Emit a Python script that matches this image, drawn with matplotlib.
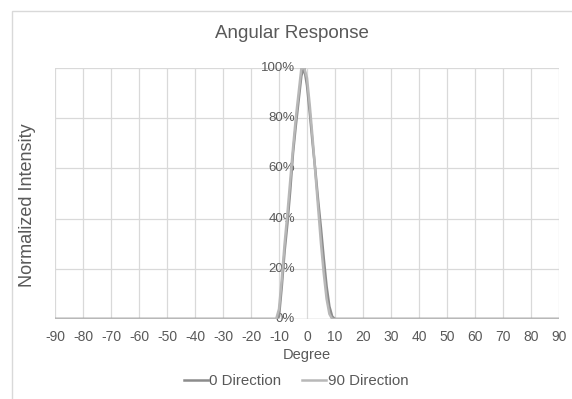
import matplotlib
matplotlib.use("Agg")
import matplotlib.pyplot as plt
from matplotlib.patches import Rectangle

plt.rcParams['font.family'] = ['Liberation Sans', 'DejaVu Sans']

# Angular response measurements (degree vs normalized intensity)
deg_0 = [-90, -11, -10, -9, -8, -7, -6, -5, -4, -3, -2, -1, 0, 1, 2, 3, 4, 5, 6, 7, 8, 9, 10, 90]
int_0 = [0.0, 0.0, 0.01, 0.13, 0.27, 0.38, 0.51, 0.66, 0.77, 0.87, 0.97, 1.0, 0.93, 0.82, 0.70, 0.59, 0.47, 0.36, 0.24, 0.13, 0.05, 0.01, 0.0, 0.0]

deg_90 = [-90, -11, -10, -9, -8, -7, -6, -5, -4, -3, -2, -1, 0, 1, 2, 3, 4, 5, 6, 7, 8, 9, 10, 90]
int_90 = [0.0, 0.0, 0.04, 0.16, 0.30, 0.42, 0.55, 0.68, 0.80, 0.90, 1.0, 1.0, 0.96, 0.85, 0.72, 0.58, 0.44, 0.30, 0.18, 0.08, 0.02, 0.0, 0.0, 0.0]

series_names = ["0 Direction", "90 Direction"]
x_ticks = list(range(-90, 91, 10))
y_ticks = [0.0, 0.2, 0.4, 0.6, 0.8, 1.0]
y_tick_labels = ["0%", "20%", "40%", "60%", "80%", "100%"]

text_color = "#595959"
grid_color = "#d9d9d9"

W, H = 572, 399
fig = plt.figure(figsize=(W / 100, H / 100), dpi=100)

# chart frame
fig.patches.append(Rectangle((12 / W, -0.1), 1.2, 1 - 11 / H + 0.1,
                             transform=fig.transFigure, fill=False,
                             edgecolor="#d9d9d9", linewidth=1.0, zorder=0))

ax = fig.add_axes([55 / W, 1 - 319 / H, (559 - 55) / W, (319 - 68) / H])
ax.set_xlim(-90, 90)
ax.set_ylim(0, 1)

ax.plot(deg_0, int_0, color="#8c8c8c", linewidth=1.8, label=series_names[0], zorder=3)
ax.plot(deg_90, int_90, color="#b8b8b8", linewidth=1.8, label=series_names[1], zorder=3)

ax.set_xticks(x_ticks)
ax.set_xticklabels([str(t) for t in x_ticks], fontsize=10, color=text_color)
ax.set_yticks(y_ticks)
ax.set_yticklabels([])
ax.tick_params(axis='both', length=0)
ax.tick_params(axis='x', pad=8)
ax.grid(True, color=grid_color, linewidth=0.9)
ax.set_axisbelow(True)
for s in ax.spines.values():
    s.set_visible(False)
ax.axhline(0, color="#cfcfcf", linewidth=1.0, zorder=2)

# vertical axis labels sit beside the axis crossing at 0 degrees
for v, lab in zip(y_ticks, y_tick_labels):
    ax.annotate(lab, xy=(0, v), xytext=(-8.5, 0), textcoords="offset points",
                ha="right", va="center", fontsize=9.5, color=text_color, zorder=2)

fig.text(292 / W, 1 - 33 / H, "Angular Response", fontsize=13.5, color=text_color,
         ha="center", va="center")
fig.text(28 / W, 1 - 205 / H, "Normalized Intensity", fontsize=13, color=text_color,
         ha="center", va="center", rotation=90)
ax.set_xlabel("Degree", fontsize=10.5, color=text_color, labelpad=3)

leg = fig.legend(*ax.get_legend_handles_labels(), loc="center",
                 bbox_to_anchor=(296 / W, 1 - 381 / H), ncol=2,
                 frameon=False, fontsize=10.8, handlelength=1.6, handletextpad=0.1,
                 columnspacing=1.4)
for t in leg.get_texts():
    t.set_color(text_color)

fig.savefig("out.png", dpi=100)
